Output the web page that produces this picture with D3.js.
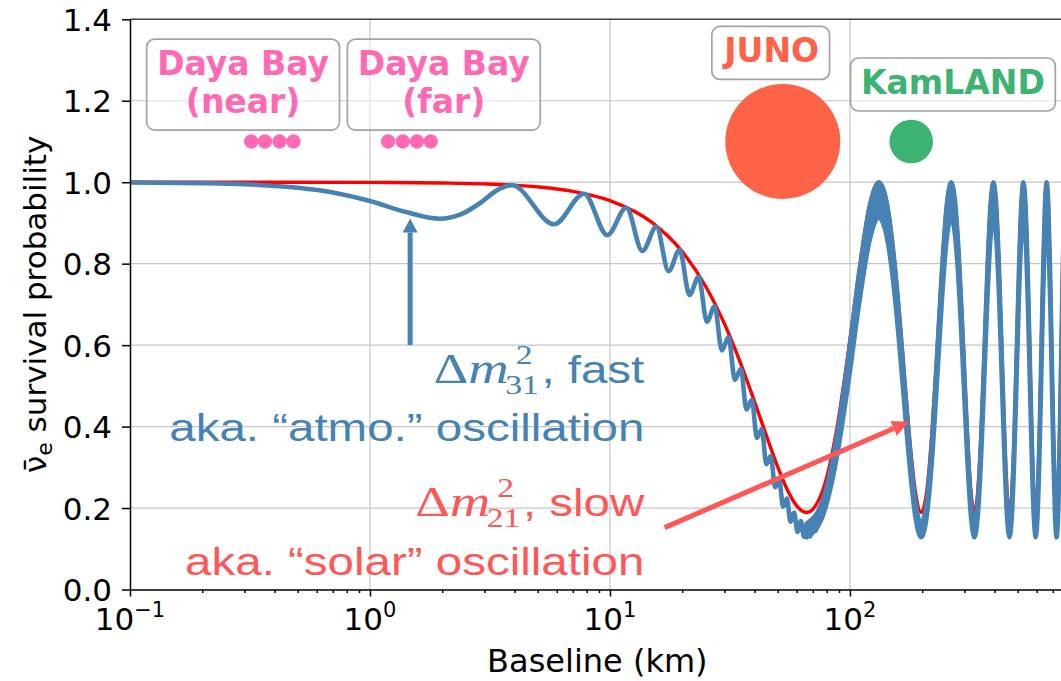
<!DOCTYPE html>
<html>
<head>
<meta charset="utf-8">
<script src="https://cdn.jsdelivr.net/npm/d3@7"></script>
<style>
  body { margin: 0; background: #fff; }
  svg { display: block; }
</style>
</head>
<body>
<svg id="chart" width="1061" height="681"></svg>
<script>
// slow ("solar") survival curve, baseline in km
let redL = [0.1, 1, 2, 3, 5, 7, 10, 15, 20, 25, 30, 35, 40, 45, 50, 55, 60, 66,
    77, 88, 99, 110, 121, 132, 143, 154, 165, 176, 187, 198,
    209, 220, 231, 242, 253, 264, 275, 286, 297, 308, 319, 330,
    341, 352, 363, 374, 385, 396, 407, 418, 429, 440, 451, 462,
    473, 484, 495, 506, 517, 528, 539, 550, 561, 572, 583, 594,
    605, 616, 627, 638, 649, 660, 671, 682, 693, 704, 715, 726,
    737, 748, 759, 770, 781, 792];
let redP = [1.000, 0.9995, 0.9981, 0.9959, 0.9886, 0.9777, 0.9549, 0.9009, 0.8297, 0.7452, 0.6522, 0.5559, 0.4616, 0.3754, 0.3011, 0.2433, 0.2055, 0.189,
    0.243, 0.392, 0.595, 0.797, 0.946, 1.000, 0.946, 0.797, 0.595, 0.392, 0.243, 0.189,
    0.243, 0.392, 0.595, 0.797, 0.946, 1.000, 0.946, 0.797, 0.595, 0.392, 0.243, 0.189,
    0.243, 0.392, 0.595, 0.797, 0.946, 1.000, 0.946, 0.797, 0.595, 0.392, 0.243, 0.189,
    0.243, 0.392, 0.595, 0.797, 0.946, 1.000, 0.946, 0.797, 0.595, 0.392, 0.243, 0.189,
    0.243, 0.392, 0.595, 0.797, 0.946, 1.000, 0.946, 0.797, 0.595, 0.392, 0.243, 0.189,
    0.243, 0.392, 0.595, 0.797, 0.946, 1.000];

// full survival curve where the fast wiggles are still resolved
let blueL = [0.1, 0.2, 0.3, 0.5, 0.7, 1.0, 1.4, 1.95, 2.4, 2.9, 3.4, 3.9,
    5.85, 7.8, 9.75, 11.7, 13.65, 15.6, 17.55, 19.5, 21.45, 23.4, 25.35, 27.3,
    29.25, 31.2, 33.15, 35.1, 37.05, 39.0, 40.95, 42.9, 44.85, 46.8, 48.75, 50.7,
    52.65, 54.6, 56.55, 58.5, 60.45, 62.4, 64.35, 66.3, 68.25, 70.2, 72.15, 74.1];
let blueP = [0.9994, 0.9977, 0.9950, 0.9865, 0.9749, 0.9538, 0.9273, 0.9103, 0.9216, 0.9502, 0.9812, 0.9929,
    0.8967, 0.9717, 0.8701, 0.9373, 0.8313, 0.8907, 0.7818, 0.8336, 0.7231, 0.7678, 0.6574, 0.6956,
    0.5871, 0.6196, 0.5145, 0.5421, 0.4420, 0.4658, 0.3723, 0.3935, 0.3079, 0.3275, 0.2509, 0.2700,
    0.2032, 0.2232, 0.1663, 0.1888, 0.1415, 0.1680, 0.1295, 0.1618, 0.1305, 0.1703, 0.1445, 0.1932];

// beyond ~70 km the fast wiggles blur into a band: upper / lower edge
let bandL = [66, 77, 88, 99, 110, 121, 132, 143, 154, 165, 176, 187,
    198, 209, 220, 231, 242, 253, 264, 275, 286, 297, 308, 319,
    330, 341, 352, 363, 374, 385, 396, 407, 418, 429, 440, 451,
    462, 473, 484, 495, 506, 517, 528, 539, 550, 561, 572, 583,
    594, 605, 616, 627, 638, 649, 660, 671, 682, 693, 704, 715,
    726, 737, 748, 759, 770, 781, 792];
let bandHi = [0.162, 0.219, 0.374, 0.584, 0.792, 0.944, 1.000, 0.944, 0.792, 0.584, 0.374, 0.219,
    0.162, 0.219, 0.374, 0.584, 0.792, 0.944, 1.000, 0.944, 0.792, 0.584, 0.374, 0.219,
    0.162, 0.219, 0.374, 0.584, 0.792, 0.944, 1.000, 0.944, 0.792, 0.584, 0.374, 0.219,
    0.162, 0.219, 0.374, 0.584, 0.792, 0.944, 1.000, 0.944, 0.792, 0.584, 0.374, 0.219,
    0.162, 0.219, 0.374, 0.584, 0.792, 0.944, 1.000, 0.944, 0.792, 0.584, 0.374, 0.219,
    0.162, 0.219, 0.374, 0.584, 0.792, 0.944, 1.000];
let bandLo = [0.128, 0.180, 0.322, 0.517, 0.714, 0.859, 0.912, 0.859, 0.714, 0.517, 0.322, 0.180,
    0.128, 0.180, 0.322, 0.517, 0.714, 0.859, 0.912, 0.859, 0.714, 0.517, 0.322, 0.180,
    0.128, 0.180, 0.322, 0.517, 0.714, 0.859, 0.912, 0.859, 0.714, 0.517, 0.322, 0.180,
    0.128, 0.180, 0.322, 0.517, 0.714, 0.859, 0.912, 0.859, 0.714, 0.517, 0.322, 0.180,
    0.128, 0.180, 0.322, 0.517, 0.714, 0.859, 0.912, 0.859, 0.714, 0.517, 0.322, 0.180,
    0.128, 0.180, 0.322, 0.517, 0.714, 0.859, 0.912];

// experiments
let nearL = [0.32, 0.365, 0.42, 0.48];
let farL = [1.19, 1.37, 1.57, 1.79];
let dayaP = 1.1;
let siteNames = ["JUNO", "KamLAND"];
let siteL = [52.5, 180];
let siteP = [1.1, 1.1];

let xMajor = [0.1, 1, 10, 100];
let xExp = ["\u22121", "0", "1", "2"];
let yTicks = [0, 0.2, 0.4, 0.6, 0.8, 1.0, 1.2, 1.4];

let blue = "#4682b4",
    red = "#ff0000",
    salmon = "#ff5656",
    pink = "#ff69b4";
let siteColour = {"JUNO": "#ff6347", "KamLAND": "#3cb371"};
let siteRadius = {"JUNO": 57.5, "KamLAND": 21.8};

let pLeft = 130, pRight = 1066.7, pTop = 19.3, pBottom = 589.5;

let x = d3.scaleLog().domain([0.1, 800]).range([pLeft, pRight]);
let y = d3.scaleLinear().domain([0, 1.4]).range([pBottom, pTop]);

let svg = d3.select("#chart");

// grid
let grid = svg.append("g").attr("stroke", "#c6c6c6").attr("stroke-width", 1.2);
grid.selectAll(".gx").data(xMajor.slice(1)).enter().append("line")
    .attr("class", "gx")
    .attr("x1", d => x(d)).attr("x2", d => x(d))
    .attr("y1", pTop).attr("y2", pBottom);
grid.selectAll(".gy").data(yTicks.slice(1, -1)).enter().append("line")
    .attr("class", "gy")
    .attr("x1", pLeft).attr("x2", pRight)
    .attr("y1", d => y(d)).attr("y2", d => y(d));

// curves
let line = d3.line()
    .x(d => x(d[0]))
    .y(d => y(d[1]))
    .curve(d3.curveMonotoneX);

let band = d3.area()
    .x(d => x(d[0]))
    .y0(d => y(d[2]))
    .y1(d => y(d[1]))
    .curve(d3.curveMonotoneX);

svg.append("path")
    .datum(d3.zip(redL, redP))
    .attr("d", line)
    .attr("fill", "none")
    .attr("stroke", red)
    .attr("stroke-width", 3.4);

svg.append("path")
    .datum(d3.zip(bandL, bandHi, bandLo))
    .attr("d", band)
    .attr("fill", blue)
    .attr("stroke", blue)
    .attr("stroke-width", 4.4)
    .attr("stroke-linejoin", "round");

svg.append("path")
    .datum(d3.zip(blueL, blueP))
    .attr("d", line)
    .attr("fill", "none")
    .attr("stroke", blue)
    .attr("stroke-width", 4.6)
    .attr("stroke-linejoin", "round");

// axes
let axisFont = "DejaVu Sans";

let yAxis = svg.append("g")
    .attr("transform", "translate(" + pLeft + ",0)")
    .call(d3.axisLeft(y).tickValues(yTicks).tickSize(8).tickSizeOuter(0)
        .tickPadding(10).tickFormat(d3.format(".1f")));
yAxis.selectAll("text")
    .attr("font-family", axisFont)
    .attr("font-size", 31)
    .attr("fill", "#000")
    .attr("dy", "0.36em");

let xAxis = svg.append("g")
    .attr("transform", "translate(0," + pBottom + ")")
    .call(d3.axisBottom(x).tickValues(xMajor).tickSize(7).tickSizeOuter(0).tickFormat(""));

let minor = [];
[0.1, 1, 10, 100].forEach(b => {
    for (let k = 2; k <= 9; k++) if (b * k <= 800) minor.push(b * k);
});
svg.append("g")
    .attr("transform", "translate(0," + pBottom + ")")
    .call(d3.axisBottom(x).tickValues(minor).tickSize(3.5).tickSizeOuter(0).tickFormat(""))
    .select(".domain").remove();

svg.selectAll(".domain, .tick line").attr("stroke", "#000").attr("stroke-width", 1.5);

xMajor.forEach((v, i) => {
    let t = svg.append("text")
        .attr("x", x(v)).attr("y", pBottom + 40.5)
        .attr("text-anchor", "middle")
        .attr("font-family", axisFont)
        .attr("font-size", 31);
    t.append("tspan").text("10");
    t.append("tspan").attr("font-size", 21).attr("dy", -13.5).text(xExp[i]);
});

// frame top
svg.append("line").attr("x1", pLeft).attr("x2", pRight).attr("y1", pTop).attr("y2", pTop)
    .attr("stroke", "#444").attr("stroke-width", 1.6);

svg.append("text")
    .attr("x", (pLeft + pRight) / 2 - 1).attr("y", 672)
    .attr("text-anchor", "middle")
    .attr("font-family", axisFont)
    .attr("font-size", 32)
    .text("Baseline (km)");

let yl = svg.append("text")
    .attr("transform", "translate(46," + ((pTop + pBottom) / 2) + ") rotate(-90)")
    .attr("text-anchor", "middle")
    .attr("font-family", axisFont)
    .attr("font-size", 31);
yl.append("tspan").text("\u03bd\u0304");
yl.append("tspan").attr("font-size", 22).attr("dy", 6).text("e");
yl.append("tspan").attr("dy", -6).text(" survival probability");

// detectors
svg.append("g").selectAll("circle")
    .data(nearL.concat(farL)).enter().append("circle")
    .attr("cx", d => x(d)).attr("cy", y(dayaP)).attr("r", 7.2)
    .attr("fill", pink);

svg.append("g").selectAll("circle")
    .data(siteNames).enter().append("circle")
    .attr("cx", (d, i) => x(siteL[i])).attr("cy", (d, i) => y(siteP[i]))
    .attr("r", d => siteRadius[d])
    .attr("fill", d => siteColour[d]);

function tag(lines, L, P, colour) {
    let g = svg.append("g");
    let t = g.append("text")
        .attr("text-anchor", "middle")
        .attr("font-family", axisFont)
        .attr("font-weight", "bold")
        .attr("font-size", 33)
        .attr("fill", colour);
    lines.forEach((s, i) => {
        t.append("tspan").attr("x", x(L)).attr("y", y(P) + i * 38).text(s);
    });
    let bb = t.node().getBBox();
    g.insert("rect", "text")
        .attr("x", bb.x - 10.5).attr("y", bb.y - 5)
        .attr("width", bb.width + 21).attr("height", bb.height + 14)
        .attr("rx", 8)
        .attr("fill", "#fff").attr("fill-opacity", 0.5)
        .attr("stroke", "#a3a3a3").attr("stroke-width", 1.7);
}

tag(["Daya Bay", "(near)"], 0.296, 1.263, pink);
tag(["Daya Bay", "(far)"], 2.03, 1.263, pink);
tag(["JUNO"], 47.2, 1.294, siteColour["JUNO"]);
tag(["KamLAND"], 268.5, 1.2166, siteColour["KamLAND"]);

// annotations
function arrow(L0, P0, L1, P1, colour, w, headLen, headW) {
    let x0 = x(L0), y0 = y(P0), x1 = x(L1), y1 = y(P1);
    let a = Math.atan2(y1 - y0, x1 - x0);
    let bx = x1 - headLen * Math.cos(a), by = y1 - headLen * Math.sin(a);
    let nx = -Math.sin(a) * headW, ny = Math.cos(a) * headW;
    svg.append("line")
        .attr("x1", x0).attr("y1", y0).attr("x2", bx).attr("y2", by)
        .attr("stroke", colour).attr("stroke-width", w);
    svg.append("path")
        .attr("d", "M" + x1 + "," + y1 + "L" + (bx + nx) + "," + (by + ny) + "L" + (bx - nx) + "," + (by - ny) + "Z")
        .attr("fill", colour);
}

// Δm² with stacked sub/superscript: each piece is its own text so they sit clear of each other
function mathLine(L, P, sub, word, colour) {
    let g = svg.append("g")
        .attr("transform", "translate(" + x(L) + "," + y(P) + ") scale(1.25,1)")
        .attr("fill", colour);
    let w = g.append("text")
        .attr("text-anchor", "end")
        .attr("font-family", "Liberation Sans, Arial")
        .attr("font-size", 38)
        .text(", " + word);
    let ww = w.node().getComputedTextLength();
    let subX = -ww - 29;
    g.append("text")
        .attr("x", subX).attr("y", 11)
        .attr("font-family", "Liberation Serif")
        .attr("font-size", 27)
        .text(sub);
    g.append("text")
        .attr("x", subX + 8.5).attr("y", -19)
        .attr("font-family", "Liberation Serif")
        .attr("font-size", 27)
        .text("2");
    g.append("text")
        .attr("x", subX + 3).attr("text-anchor", "end")
        .attr("font-family", "Liberation Serif")
        .attr("font-size", 43)
        .html("\u0394<tspan font-style='italic' font-size='45'>m</tspan>");
}

function plainLine(L, P, s, colour) {
    svg.append("text")
        .attr("transform", "translate(" + x(L) + "," + y(P) + ") scale(1.25,1)")
        .attr("text-anchor", "end")
        .attr("fill", colour)
        .attr("font-family", "Liberation Sans, Arial")
        .attr("font-size", 38)
        .text(s);
}

arrow(1.47, 0.60, 1.47, 0.911, blue, 5, 14, 7.5);
mathLine(13.9, 0.506, "31", "fast", blue);
plainLine(13.9, 0.3646, "aka. \u201catmo.\u201d oscillation", blue);

mathLine(13.9, 0.1805, "21", "slow", salmon);
plainLine(13.9, 0.0356, "aka. \u201csolar\u201d oscillation", salmon);
arrow(16.9, 0.152, 176.6, 0.412, salmon, 5, 17, 8);
</script>
</body>
</html>
